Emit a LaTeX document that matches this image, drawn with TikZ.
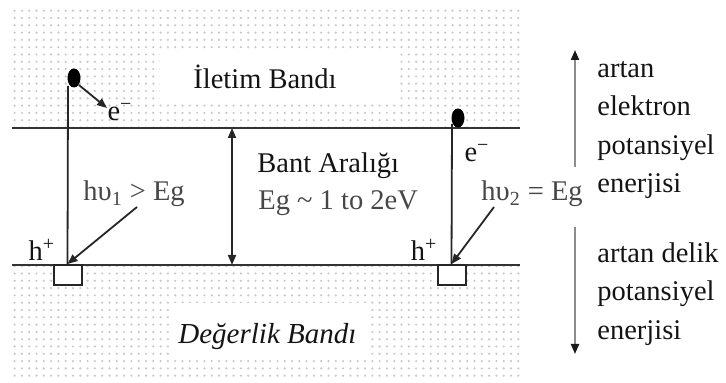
\documentclass[tikz,border=0pt]{standalone}
\usepackage{fontspec}
\setmainfont{Liberation Serif}
\usetikzlibrary{arrows.meta,patterns.meta,shapes.geometric}
\begin{document}
\begin{tikzpicture}[x=0.5pt,y=-0.5pt,
  txt/.style={inner sep=0pt,font=\fontsize{14.25}{19.2}\selectfont,text=black!92},
  graytxt/.style={txt,text=black!72},
  dotband/.style={pattern={Dots[distance=3.65pt,radius=0.6pt]},pattern color=black!22},
  bandline/.style={draw=black!80,line width=1pt},
  electron/.style={ellipse,fill=black,inner sep=0pt,minimum width=6.5pt,minimum height=9.5pt},
  hole/.style={draw=black!85,line width=1pt,fill=white,inner sep=0pt,minimum width=14pt,minimum height=10pt},
  conn/.style={draw=black!85,line width=0.9pt},
  arr/.style={conn,-{Triangle[length=5pt,width=4pt]}},
  darr/.style={conn,{Triangle[length=5pt,width=4pt]}-{Triangle[length=5pt,width=4pt]}},
  garr/.style={draw=black!45,line width=1pt,-{Triangle[length=5pt,width=4pt,color=black!90]}}
]
\useasboundingbox (0,0) rectangle (726,383);
% dotted bands
\fill[dotband] (12,10) rectangle (520,128);
\fill[dotband] (12,265) rectangle (520,378);
\fill[white] (160,50) rectangle (397,100);
\fill[white] (172,303) rectangle (370,357);
% band edges
\coordinate (cL) at (12,128);
\coordinate (cR) at (520,128);
\coordinate (vL) at (12,265);
\coordinate (vR) at (520,265);
\draw[bandline] (cL) -- (cR);
\draw[bandline] (vL) -- (vR);
% band labels
\node[txt] (cb) at (265,77) {İletim Bandı};
\node[txt,font=\fontsize{14.5}{19}\selectfont\itshape,anchor=west] (vb) at (178,337) {Değerlik Bandı};
% band gap
\coordinate (g1) at (232,128);
\coordinate (g2) at (232,265);
\draw[darr] (g1) -- (g2);
\node[txt,anchor=west] (bg) at (257,166) {Bant Aralığı};
\node[graytxt,anchor=west] (eg) at (258,203) {Eg \char`\~{} 1 to 2eV};
% left transition
\node[electron] (e1) at (74,78) {};
\node[hole] (h1) at (67.5,275) {};
\coordinate (t1) at (68,86);
\draw[conn] (t1) -- (h1.north);
\coordinate (e1a) at (107,108);
\draw[arr] (e1.south east) -- (e1a);
\node[txt] (el1) at (120,112) {e\textsuperscript{−}};
\node[txt] (hp1) at (42,250) {h\textsuperscript{+}};
\node[graytxt,anchor=west] (p1) at (83,194) {hυ\textsubscript{1} > Eg};
\coordinate (a1s) at (137,207);
\draw[arr] (a1s) -- (h1.north);
% right transition
\node[electron] (e2) at (458,118) {};
\node[hole] (h2) at (451.5,275) {};
\coordinate (t2) at (452,124);
\draw[conn] (t2) -- (h2.north);
\node[txt] (el2) at (477,153) {e\textsuperscript{−}};
\node[txt] (hp2) at (424,250) {h\textsuperscript{+}};
\node[graytxt,anchor=west] (p2) at (481,194) {hυ\textsubscript{2} = Eg};
\coordinate (a2s) at (494,207);
\draw[arr] (a2s) -- (h2.north);
% energy axes
\coordinate (u1) at (575,167);
\coordinate (u2) at (575,50);
\draw[garr] (u1) -- (u2);
\coordinate (d1) at (575,227);
\coordinate (d2) at (575,354);
\draw[garr] (d1) -- (d2);
\node[txt,align=left,anchor=west] (ue) at (597,130) {artan\\elektron\\potansiyel\\enerjisi};
\node[txt,align=left,anchor=west] (de) at (597,294) {artan delik\\potansiyel\\enerjisi};
\end{tikzpicture}
\end{document}
